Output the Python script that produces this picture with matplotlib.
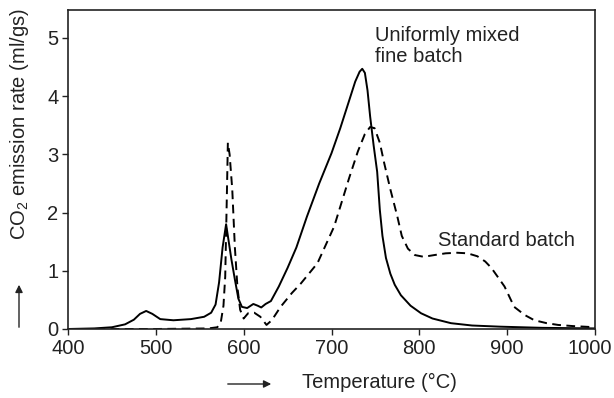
import matplotlib
matplotlib.use("Agg")
import matplotlib.pyplot as plt
import matplotlib.transforms as mtransforms
import numpy as np

plt.rcParams['font.family'] = ['Liberation Sans', 'DejaVu Sans']
plt.rcParams['mathtext.fontset'] = 'custom'
plt.rcParams['mathtext.rm'] = 'Liberation Sans'

# uniformly mixed fine batch (solid)
fine_t = [400, 430, 450, 465, 475, 482, 489, 496, 505, 520, 540, 555, 563, 568, 572,
          576, 580, 583, 586, 590, 594, 598, 604, 611, 616, 620, 625, 631, 640, 650,
          660, 672, 686, 700, 710, 720, 727, 732, 735, 738, 741, 744, 748, 752, 755,
          758, 762, 767, 772, 779, 790, 802, 815, 836, 860, 892, 940, 1000]
fine_v = [0.0, 0.01, 0.03, 0.08, 0.16, 0.26, 0.31, 0.26, 0.17, 0.15, 0.17, 0.21, 0.28, 0.42, 0.8,
          1.4, 1.8, 1.5, 1.2, 0.85, 0.52, 0.38, 0.36, 0.43, 0.4, 0.37, 0.43, 0.48, 0.73, 1.05,
          1.4, 1.93, 2.5, 3.02, 3.45, 3.92, 4.25, 4.42, 4.47, 4.4, 4.1, 3.65, 3.15, 2.7, 2.05,
          1.6, 1.22, 0.95, 0.76, 0.58, 0.4, 0.27, 0.18, 0.1, 0.06, 0.04, 0.02, 0.01]

# standard batch (dashed)
std_t = [400, 500, 560, 570, 574, 577, 579, 581, 582, 584, 587, 590, 593, 596, 600,
         605, 612, 619, 626, 632, 642, 655, 665, 684, 703, 720, 730, 738, 744, 749,
         755, 760, 767, 775, 780, 787, 795, 805, 817, 830, 843, 855, 866, 875, 882,
         890, 897, 908, 920, 931, 945, 958, 975, 988, 1000]
std_v = [0.0, 0.0, 0.01, 0.03, 0.12, 0.4, 0.9, 2.4, 3.2, 3.0, 2.4, 1.4, 0.7, 0.33, 0.18,
         0.27, 0.28, 0.21, 0.07, 0.15, 0.38, 0.62, 0.78, 1.13, 1.76, 2.59, 3.05, 3.35, 3.47, 3.45,
         3.2, 2.85, 2.4, 1.93, 1.6, 1.38, 1.27, 1.24, 1.27, 1.3, 1.31, 1.3, 1.25, 1.16, 1.05,
         0.88, 0.73, 0.38, 0.24, 0.15, 0.1, 0.07, 0.05, 0.04, 0.03]

xticks = [400, 500, 600, 700, 800, 900, 1000]
yticks = [0, 1, 2, 3, 4, 5]

fs = 14.5
ink = '#222222'

fig = plt.figure(figsize=(6.14, 3.98), dpi=100)
ax = fig.add_axes([68/614, 1-329/398, (595-68)/614, (329-10)/398])

ax.plot(fine_t, fine_v, color='black', lw=1.4)
ax.plot(std_t, std_v, color='black', lw=1.4, dashes=(4.5, 2.8))

ax.set_xlim(400, 1000)
ax.set_ylim(0, 5.48)
ax.set_xticks(xticks)
ax.set_yticks(yticks)
ax.tick_params(labelsize=fs, direction='out', length=4, width=1, colors=ink, pad=3)
for s in ax.spines.values():
    s.set_color(ink)
    s.set_linewidth(1.2)

# last x label sits a little left so it fits in the figure
lab = ax.get_xticklabels()[-1]
lab.set_transform(lab.get_transform() + mtransforms.ScaledTranslation(-5/100, 0, fig.dpi_scale_trans))

ax.text(750, 5.2, "Uniformly mixed\nfine batch", fontsize=fs, color=ink,
        ha='left', va='top', linespacing=1.1)
ax.text(821, 1.52, "Standard batch", fontsize=fs, color=ink, ha='left', va='center')

fig.text(20/614, 1-124/398, "CO$_\\mathregular{2}$ emission rate (ml/gs)", rotation=90,
         fontsize=fs, color=ink, ha='center', va='center')
fig.text(302/614, 1-382/398, "Temperature (°C)", fontsize=fs, color=ink,
         ha='left', va='center')

fig.add_artist(matplotlib.patches.FancyArrowPatch((19/614, 1-330/398), (19/614, 1-282/398),
               transform=fig.transFigure, arrowstyle='-|>', mutation_scale=11,
               color=ink, lw=1))
fig.add_artist(matplotlib.patches.FancyArrowPatch((225/614, 1-384/398), (274/614, 1-384/398),
               transform=fig.transFigure, arrowstyle='-|>', mutation_scale=11,
               color=ink, lw=1))

fig.savefig("out.png", dpi=100)
